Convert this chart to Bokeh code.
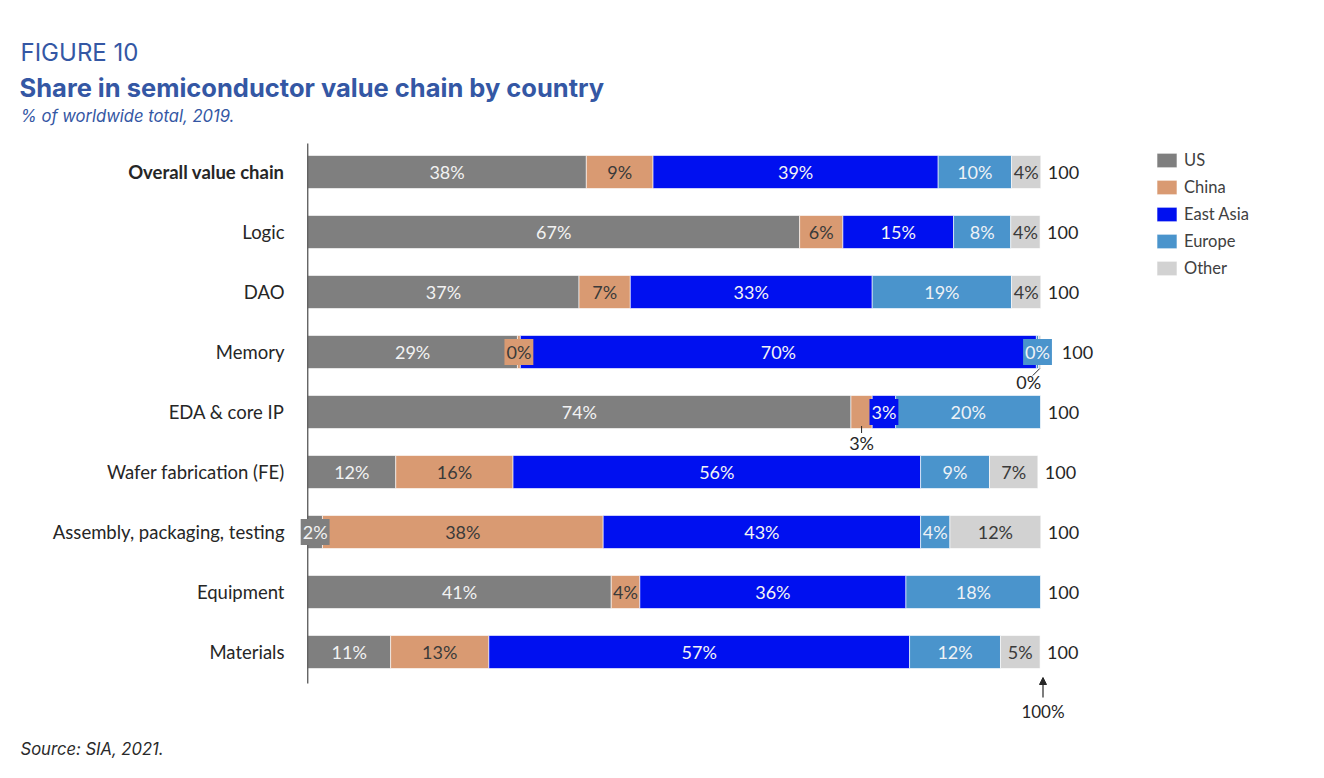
from bokeh.plotting import figure
from bokeh.models import Range1d, Label, Arrow, NormalHead
from bokeh.core.properties import value
from bokeh.embed import file_html
from bokeh.resources import INLINE

# ---------------- data ----------------
categories = [
    "Overall value chain",
    "Logic",
    "DAO",
    "Memory",
    "EDA & core IP",
    "Wafer fabrication (FE)",
    "Assembly, packaging, testing",
    "Equipment",
    "Materials",
]
series_names = ["US", "China", "East Asia", "Europe", "Other"]
us = [38.0, 67.1, 37.0, 28.6, 74.1, 12.0, 2.0, 41.4, 11.3]
china = [9.1, 5.9, 7.0, 0.4, 2.9, 16.0, 38.3, 3.9, 13.4]
east_asia = [38.9, 15.1, 33.0, 70.4, 3.2, 55.6, 43.3, 36.3, 57.4]
europe = [10.0, 7.8, 19.0, 0.3, 19.8, 9.4, 4.0, 18.4, 12.4]
other = [4.0, 4.0, 4.0, 0.3, 0.0, 6.6, 12.4, 0.0, 5.4]
series_values = [us, china, east_asia, europe, other]

# ---------------- styles ----------------
colors = ["#7f7f7f", "#d99a72", "#0010f0", "#4a94cc", "#d2d2d2"]
label_colors = ["#f2f2f2", "#3a3a3a", "#f4f4f4", "#eef2f6", "#3a3a3a"]
BLUE = "#3457a4"
DARK = "#262626"
FONT = "Lato"
LBL = "18px"

W, H = 1308, 762
PX_X0, PX_PER_UNIT = 307.3, 7.33   # canvas x of 0 %, pixels per 1 %
PX_Y0, PX_PER_ROW = 171.5, 60.0    # canvas y of first row, pixels per row


def X(px):
    return (px - PX_X0) / PX_PER_UNIT


def Y(py):
    return (py - PX_Y0) / PX_PER_ROW


def dx(px):
    return px / PX_PER_UNIT


def dy(py):
    return py / PX_PER_ROW


p = figure(
    width=W, height=H,
    x_range=Range1d(X(0), X(W)),
    y_range=Range1d(Y(H), Y(0)),
    x_axis_location=None, y_axis_location=None,
    output_backend="svg", toolbar_location=None,
    min_border=0, title=None,
)
p.outline_line_color = None
p.xgrid.grid_line_color = None
p.ygrid.grid_line_color = None
p.background_fill_color = "white"

rows = list(range(len(categories)))
BAR_H = 0.55

# stacked bars
lefts = [0.0] * len(rows)
seg_info = []
for si, (name, vals) in enumerate(zip(series_names, series_values)):
    rights = [l + v for l, v in zip(lefts, vals)]
    p.hbar(y=rows, left=lefts, right=rights, height=BAR_H,
           fill_color=colors[si], line_color="white", line_width=0.6,
           legend_label=name)
    for r in rows:
        seg_info.append((si, r, lefts[r], rights[r], vals[r]))
    lefts = rights
totals = lefts

# axis line
p.segment(x0=[0], y0=[-0.475], x1=[0], y1=[len(rows) - 0.475],
          line_color=DARK, line_width=1)

# category labels
cat_style = dict(text_align="right", text_baseline="middle",
                 text_font=value(FONT), text_font_size="18.5px", text_color=DARK)
p.text(x=[X(284)] * (len(rows) - 1), y=rows[1:], text=categories[1:], **cat_style)
p.text(x=[X(284)], y=rows[:1], text=categories[:1], text_font_style="bold", **cat_style)

# special label placements (row, series)
boxed = {(3, 1), (3, 3), (4, 2), (6, 0)}
below = {(3, 4): "leader", (4, 1): "tick"}

norm = dict(x=[], y=[], t=[], c=[])
for si, r, l, rt, v in seg_info:
    key = (r, si)
    txt = f"{round(v)}%"
    cx = (l + rt) / 2
    if key in boxed:
        p.text(x=[cx], y=[r], text=[txt], text_align="center", text_baseline="middle",
               text_font=value(FONT), text_font_size=LBL, text_color=label_colors[si],
               background_fill_color=colors[si], padding=2)
    elif key in below:
        if below[key] == "leader":
            p.segment(x0=[rt - dx(1)], y0=[r + BAR_H / 2], x1=[rt - dx(8)], y1=[r + BAR_H / 2 + dy(7)],
                      line_color=DARK, line_width=1)
            p.text(x=[rt - dx(12)], y=[r + dy(30)], text=[txt], text_align="center",
                   text_baseline="middle", text_font=value(FONT), text_font_size=LBL,
                   text_color=DARK)
        else:
            p.segment(x0=[cx], y0=[r + dy(14)], x1=[cx], y1=[r + dy(21)],
                      line_color=DARK, line_width=1)
            p.text(x=[cx], y=[r + dy(31)], text=[txt], text_align="center",
                   text_baseline="middle", text_font=value(FONT), text_font_size=LBL,
                   text_color=DARK)
    elif v > 0:
        norm["x"].append(cx)
        norm["y"].append(r)
        norm["t"].append(txt)
        norm["c"].append(label_colors[si])

p.text(x=norm["x"], y=norm["y"], text=norm["t"], text_color=norm["c"],
       text_align="center", text_baseline="middle",
       text_font=value(FONT), text_font_size=LBL)

# totals
tot_x = [t + dx(7) for t in totals]
tot_x[3] = totals[3] + dx(21)
p.text(x=tot_x, y=rows, text=[f"{round(t)}" for t in totals],
       text_align="left", text_baseline="middle",
       text_font=value(FONT), text_font_size=LBL, text_color=DARK)

# 100% marker
p.add_layout(Arrow(end=NormalHead(size=7, fill_color=DARK, line_color=DARK),
                   x_start=100.3, y_start=Y(697), x_end=100.3, y_end=Y(677),
                   line_color=DARK, line_width=1.2))
p.add_layout(Label(x=100.3, y=Y(711), text="100%", text_align="center",
                   text_baseline="middle", text_font=FONT, text_font_size="17px",
                   text_color=DARK))

# titles
p.add_layout(Label(x=X(20), y=Y(52), text="FIGURE 10", text_align="left",
                   text_baseline="middle", text_font="Inter", text_font_size="24px",
                   text_color=BLUE))
p.add_layout(Label(x=X(19), y=Y(87), text="Share in semiconductor value chain by country",
                   text_align="left", text_baseline="middle", text_font="Inter",
                   text_font_style="bold", text_font_size="25.5px", text_color=BLUE))
p.add_layout(Label(x=X(20), y=Y(115), text="% of worldwide total, 2019.",
                   text_align="left", text_baseline="middle", text_font="Inter",
                   text_font_style="italic", text_font_size="16.6px", text_color=BLUE))
p.add_layout(Label(x=X(20), y=Y(748), text="Source: SIA, 2021.",
                   text_align="left", text_baseline="middle", text_font="Inter",
                   text_font_style="italic", text_font_size="16.6px", text_color="#2a2a2a"))

# legend
lg = p.legend[0]
lg.location = (1154, 484)
lg.glyph_width = 25
lg.glyph_height = 18
lg.label_height = 18
lg.label_standoff = 5
lg.spacing = 7
lg.padding = 0
lg.margin = 0
lg.border_line_color = None
lg.background_fill_alpha = 0
lg.label_text_font = FONT
lg.label_text_font_size = "16.5px"
lg.label_text_color = "#404040"

open("out.html", "w").write(file_html(p, INLINE))
